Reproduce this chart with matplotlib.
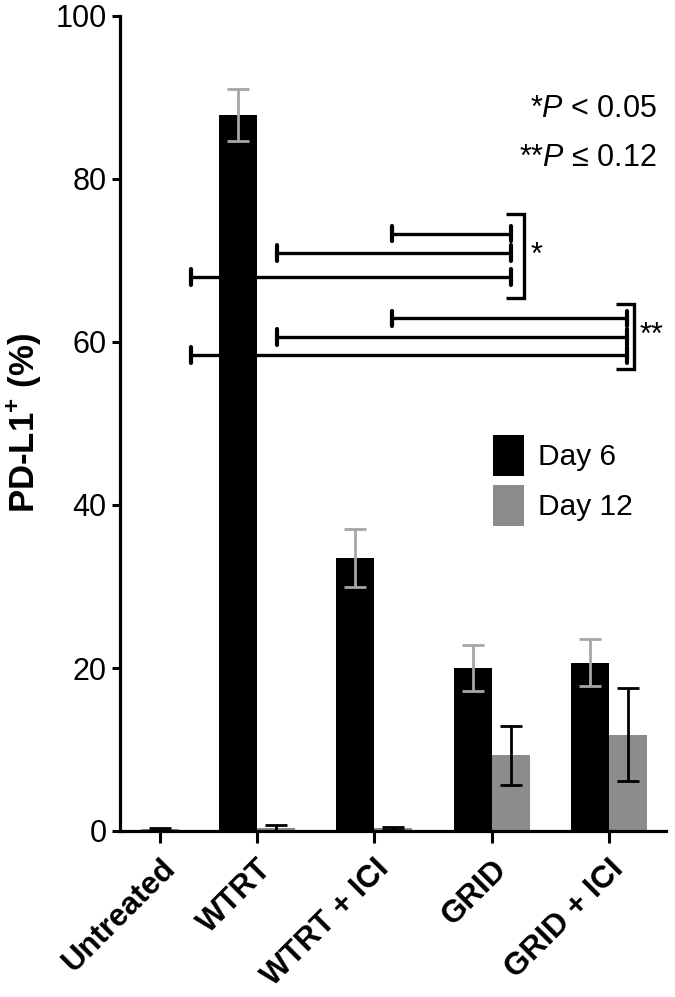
import matplotlib
matplotlib.use("Agg")
import matplotlib.pyplot as plt
from matplotlib import font_manager
import numpy as np

# ---------------- data ----------------
groups = ["Untreated", "WTRT", "WTRT + ICI", "GRID", "GRID + ICI"]
day6_mean = [np.nan, 87.9, 33.5, 20.0, 20.65]
day6_err = [np.nan, 3.2, 3.5, 2.8, 2.9]
day12_mean = [np.nan, 0.35, 0.35, 9.3, 11.8]
day12_err = [np.nan, 0.35, 0.2, 3.6, 5.7]
untreated_mean = 0.2
untreated_err = 0.15
yticks = [0, 20, 40, 60, 80, 100]
# significance comparisons: (y value, x start, x end)
sig_star = [(73.3, 2.151, 3.165), (70.9, 1.170, 3.165), (68.0, 0.437, 3.165)]
sig_dstar = [(62.9, 2.151, 4.154), (60.6, 1.170, 4.154), (58.4, 0.437, 4.154)]
pvalue_text = ["*$\\mathit{P}$ < 0.05", "**$\\mathit{P}$ ≤ 0.12"]

# ---------------- style ----------------
names = {f.name for f in font_manager.fontManager.ttflist}
base = "Liberation Sans" if "Liberation Sans" in names else "DejaVu Sans"
plt.rcParams["font.family"] = [base, "DejaVu Sans"]
plt.rcParams["mathtext.fontset"] = "custom"
plt.rcParams["mathtext.it"] = base + ":italic"
plt.rcParams["mathtext.rm"] = base
plt.rcParams["mathtext.bf"] = base + ":bold"

fig = plt.figure(figsize=(6.75, 9.97), dpi=100)
W, H = 675, 997
x0_px, x1_px = 120, 666
y0_px, y100_px = 831, 16
ax = fig.add_axes([x0_px / W, 1 - y0_px / H, (x1_px - x0_px) / W, (y0_px - y100_px) / H])

pos = np.array([0.173, 1, 2, 3, 4])
bw = 0.324
black = "#000000"
grey = "#8c8c8c"
errgrey = "#a6a6a6"

ax.bar(pos - bw / 2, day6_mean, width=bw, color=black, zorder=2, label="Day 6")
ax.errorbar(pos - bw / 2, day6_mean, yerr=day6_err, fmt="none", ecolor=errgrey,
            elinewidth=2.0, capsize=8, capthick=2.0, zorder=3)
ax.bar(pos + bw / 2, day12_mean, width=bw, color=grey, zorder=2, label="Day 12")
ax.errorbar(pos + bw / 2, day12_mean, yerr=day12_err, fmt="none", ecolor=black,
            elinewidth=2.0, capsize=8, capthick=2.0, zorder=3)
# untreated (single bar)
ax.bar([pos[0]], [untreated_mean], width=bw, color=grey, zorder=2)
ax.errorbar([pos[0]], [untreated_mean], yerr=[untreated_err], fmt="none", ecolor=black,
            elinewidth=2.0, capsize=8, capthick=2.0, zorder=3)

ax.set_xlim(-0.168, 4.487)
ax.set_ylim(0, 100)
ax.set_yticks(yticks)
ax.set_yticklabels([str(v) for v in yticks], fontsize=22)
ax.set_xticks(pos)
ax.set_xticklabels(groups, rotation=45, ha="right", va="top", rotation_mode="anchor",
                   fontsize=22.5, fontweight="bold")
ax.tick_params(axis="y", length=6, width=2.2, pad=3.5)
ax.tick_params(axis="x", length=8.5, width=2.2, pad=8)
for s in ["top", "right"]:
    ax.spines[s].set_visible(False)
for s in ["left", "bottom"]:
    ax.spines[s].set_linewidth(2.3)
ax.set_ylabel("PD-L1$^{\\mathbf{+}}$ (%)", fontsize=25, fontweight="bold", labelpad=9)

# significance lines
lw = 2.4
capdy = 0.95
for grp, bx, btop, bbot, lab, lx in [
        (sig_star, 3.276, 75.7, 65.4, "*", 3.33),
        (sig_dstar, 4.214, 64.7, 56.7, "**", 4.265)]:
    for y, xs, xe in grp:
        ax.plot([xs, xe], [y, y], color="black", lw=lw, solid_capstyle="butt", clip_on=False, zorder=4)
        for xx in (xs, xe):
            ax.plot([xx, xx], [y - capdy, y + capdy], color="black", lw=lw + 0.6,
                    solid_capstyle="round", clip_on=False, zorder=4)
    ax.plot([bx - 0.15, bx, bx, bx - 0.15], [btop, btop, bbot, bbot], color="black",
            lw=lw, solid_joinstyle="miter", solid_capstyle="butt", clip_on=False, zorder=4)
    ax.text(lx, (btop + bbot) / 2, lab, fontsize=22, ha="left", va="center")

# p-value annotation
ax.text(657 / W, 1 - 109 / H, pvalue_text[0], transform=fig.transFigure, fontsize=22,
        ha="right", va="center")
ax.text(657 / W, 1 - 158 / H, pvalue_text[1], transform=fig.transFigure, fontsize=22,
        ha="right", va="center")

fs = 21.5
fs_px = fs * 100 / 72
rect_h = 41
hh = (rect_h / fs_px - 0.245) / 0.65
leg = ax.legend(loc="upper left", bbox_to_anchor=(493 / W, 1 - 435 / H),
                bbox_transform=fig.transFigure, frameon=False, fontsize=fs,
                handlelength=31 / fs_px, handleheight=hh,
                labelspacing=(50 - rect_h) / fs_px, handletextpad=14 / fs_px,
                borderpad=0, borderaxespad=0)

fig.savefig("out.png", dpi=100)
